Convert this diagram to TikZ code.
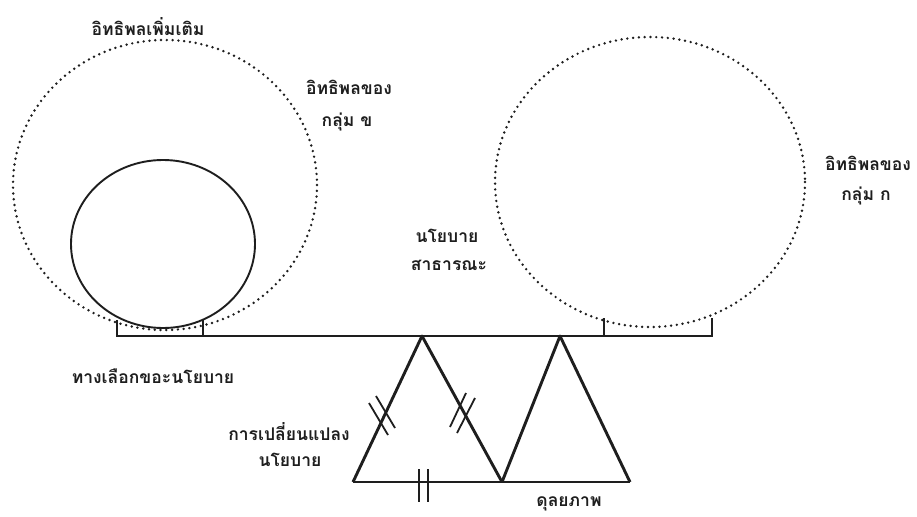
\documentclass[tikz,border=0pt]{standalone}
\usepackage{fontspec}
\newfontfamily\thaifont[Script=Thai]{Loma}
\usetikzlibrary{calc}
\definecolor{ink}{HTML}{1E1E1E}
\tikzset{
  lbl/.style={font=\thaifont\bfseries\fontsize{17.5}{19}\selectfont, text=ink, inner sep=0pt},
  dotline/.style={draw=ink, line width=2.7pt, line cap=round, dash pattern=on 0pt off 5.8pt},
  solidline/.style={draw=ink, line width=1.9pt},
  thickline/.style={draw=ink, line width=2.9pt, line join=round},
  tick/.style={draw=ink, line width=1.8pt}
}
\begin{document}
\begin{tikzpicture}[x=1pt,y=-1pt]
\useasboundingbox (0,0) rectangle (917,516);
% influence circles (dotted)
\draw[dotline] (165,185) ellipse [x radius=152, y radius=145];
\draw[dotline] (650,182) ellipse [x radius=155, y radius=145];
% policy alternatives circle (solid)
\draw[solidline, fill=white] (163,244) ellipse [x radius=92, y radius=84];
% beam and brackets
\coordinate (bl) at (117,336);
\coordinate (br) at (712,336);
\draw[solidline] (117,320) -- (bl) -- (br) -- (712,318);
\draw[solidline] (203,320) -- (203,336);
\draw[solidline] (604,318) -- (604,336);
% triangles
\coordinate (apexA) at (422,336);
\coordinate (apexB) at (560,336);
\coordinate (baseL) at (353,482);
\coordinate (baseM) at (502,482);
\coordinate (baseR) at (630,482);
\draw[thickline] (baseL) -- (apexA) -- (baseM);
\draw[thickline] (baseM) -- (apexB) -- (baseR);
\draw[solidline] (baseL) -- (baseR);
% hatch marks
\draw[tick] (369,403) -- (388,435);
\draw[tick] (376,396) -- (395,428);
\draw[tick] (450,427) -- (466,393);
\draw[tick] (457,433) -- (475,398);
\draw[tick] (419,469) -- (419,502);
\draw[tick] (428,469) -- (428,502);
% labels
\node[lbl] (add) at (148,27) {อิทธิพลเพิ่มเติม};
\node[lbl] (gb1) at (349,87) {อิทธิพลของ};
\node[lbl] (gb2) at (347,122) {กลุ่ม ข};
\node[lbl] (ga1) at (868,163) {อิทธิพลของ};
\node[lbl] (ga2) at (866,196) {กลุ่ม ก};
\node[lbl] (pp1) at (447,236) {นโยบาย};
\node[lbl] (pp2) at (449,265) {สาธารณะ};
\node[lbl] (alt) at (153,376) {ทางเลือกขอะนโยบาย};
\node[lbl] (ch1) at (289,432) {การเปลี่ยนแปลง};
\node[lbl] (ch2) at (290,460) {นโยบาย};
\node[lbl] (eq) at (569,504) {ดุลยภาพ};
\end{tikzpicture}
\end{document}
